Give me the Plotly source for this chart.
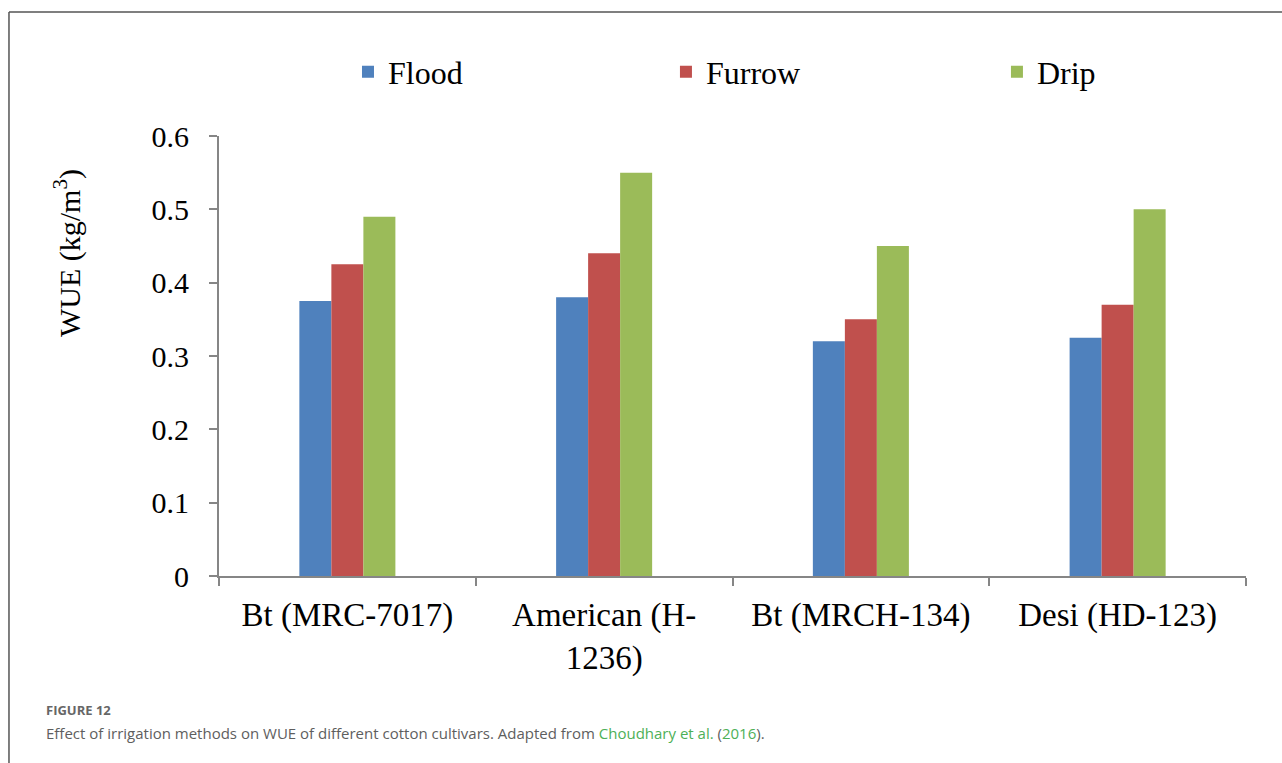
import plotly.graph_objects as go

# Cotton cultivars and water-use efficiency (kg/m³) under three irrigation methods
cultivars = ["Bt (MRC-7017)", "American (H-<br>1236)", "Bt (MRCH-134)", "Desi (HD-123)"]
flood = [0.375, 0.38, 0.32, 0.325]
furrow = [0.425, 0.44, 0.35, 0.37]
drip = [0.49, 0.55, 0.45, 0.50]

series = [
    ("Flood", flood, "#4F81BD", "legend"),
    ("Furrow", furrow, "#C0504D", "legend2"),
    ("Drip", drip, "#9BBB59", "legend3"),
]

SERIF = "Liberation Serif, Times New Roman, serif"
AXIS_GREY = "#868686"
FRAME = "#555555"

fig = go.Figure()
for name, vals, color, leg in series:
    fig.add_trace(go.Bar(
        x=cultivars, y=vals, name=name, legend=leg,
        marker=dict(color=color, line=dict(width=0)),
    ))

legend_common = dict(
    orientation="h", yanchor="middle", y=1.1455, xanchor="left",
    font=dict(family=SERIF, size=32, color="#000000"),
    bgcolor="rgba(0,0,0,0)", borderwidth=0,
)

fig.update_layout(
    width=1282, height=763,
    margin=dict(l=219, r=36, t=136, b=187),
    paper_bgcolor="white", plot_bgcolor="white",
    barmode="group", bargap=0.626, bargroupgap=0,
    showlegend=True,
    legend=dict(x=0.1256, **legend_common),
    legend2=dict(x=0.4352, **legend_common),
    legend3=dict(x=0.7575, **legend_common),
    xaxis=dict(
        showline=True, linecolor=AXIS_GREY, linewidth=2,
        ticks="outside", ticklen=8, tickcolor=AXIS_GREY, tickwidth=2,
        tickson="boundaries", showgrid=False,
        tickfont=dict(family=SERIF, size=33, color="#000000"),
        ticklabelstandoff=8,
    ),
    yaxis=dict(
        range=[0, 0.6], tickvals=[0, 0.1, 0.2, 0.3, 0.4, 0.5, 0.6],
        ticktext=["0", "0.1", "0.2", "0.3", "0.4", "0.5", "0.6"],
        showline=True, linecolor=AXIS_GREY, linewidth=2,
        ticks="outside", ticklen=8, tickcolor=AXIS_GREY, tickwidth=2,
        showgrid=False, zeroline=False,
        tickfont=dict(family=SERIF, size=30, color="#000000"),
        ticklabelstandoff=14,
    ),
    shapes=[
        # figure frame: top and left rules
        dict(type="line", xref="paper", yref="paper",
             x0=-0.2045, x1=1.04, y0=1.2818, y1=1.2818,
             line=dict(color=FRAME, width=1.5)),
        dict(type="line", xref="paper", yref="paper",
             x0=-0.2045, x1=-0.2045, y0=1.2818, y1=-0.44,
             line=dict(color=FRAME, width=1.5)),
    ],
    annotations=[
        dict(text="WUE (kg/m<sup>3</sup>)", textangle=-90,
             xref="paper", yref="paper", x=-0.148, y=0.734,
             xanchor="center", yanchor="middle", showarrow=False,
             font=dict(family=SERIF, size=30, color="#000000")),
        dict(text="<b>FIGURE 12</b>",
             xref="paper", yref="paper", x=-0.1704, y=-0.3045,
             xanchor="left", yanchor="middle", showarrow=False,
             font=dict(family="Open Sans, sans-serif", size=13, color="#666666")),
        dict(text=("Effect of irrigation methods on WUE of different cotton cultivars. "
                   "Adapted from <span style='color:#4DB057'>Choudhary et al.</span> "
                   "(<span style='color:#4DB057'>2016</span>)."),
             xref="paper", yref="paper", x=-0.1704, y=-0.3568,
             xanchor="left", yanchor="middle", showarrow=False,
             font=dict(family="Open Sans, sans-serif", size=15, color="#5e5e5e")),
    ],
)

fig.write_html("out.html")
